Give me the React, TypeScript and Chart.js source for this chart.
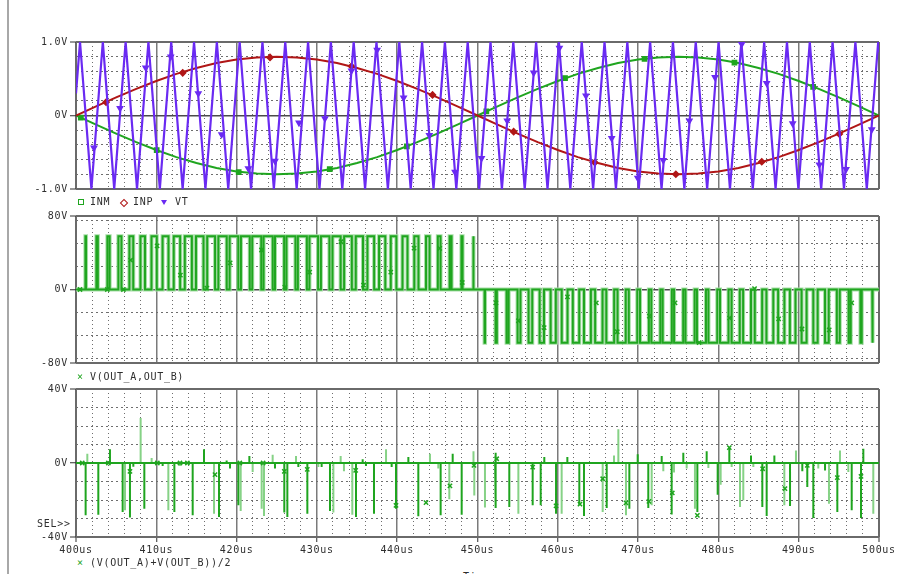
import React, { useEffect, useRef } from 'react';
import { Chart, registerables } from 'chart.js';

Chart.register(...registerables);

// ---------- shared time axis ----------
const timeMajorTicks = [400, 410, 420, 430, 440, 450, 460, 470, 480, 490, 500];
const timeMinorTicks = [402, 404, 406, 408, 412, 414, 416, 418, 422, 424, 426, 428, 432, 434, 436, 438, 442, 444, 446, 448,
  452, 454, 456, 458, 462, 464, 466, 468, 472, 474, 476, 478, 482, 484, 486, 488, 492, 494, 496, 498];

// ---------- panel 1: INM, INP, VT ----------
const sineTimes = [400, 402.5, 405, 407.5, 410, 412.5, 415, 417.5, 420, 422.5, 425, 427.5, 430, 432.5, 435, 437.5, 440, 442.5,
  445, 447.5, 450, 452.5, 455, 457.5, 460, 462.5, 465, 467.5, 470, 472.5, 475, 477.5, 480, 482.5, 485, 487.5, 490, 492.5, 495, 497.5, 500];
const inpValues = [0, 0.125, 0.247, 0.363, 0.47, 0.566, 0.647, 0.713, 0.761, 0.79, 0.8, 0.79, 0.761, 0.713, 0.647, 0.566, 0.47, 0.363,
  0.247, 0.125, 0, -0.125, -0.247, -0.363, -0.47, -0.566, -0.647, -0.713, -0.761, -0.79, -0.8, -0.79, -0.761, -0.713, -0.647, -0.566,
  -0.47, -0.363, -0.247, -0.125, 0];
const inmValues = [0, -0.125, -0.247, -0.363, -0.47, -0.566, -0.647, -0.713, -0.761, -0.79, -0.8, -0.79, -0.761, -0.713, -0.647, -0.566,
  -0.47, -0.363, -0.247, -0.125, 0, 0.125, 0.247, 0.363, 0.47, 0.566, 0.647, 0.713, 0.761, 0.79, 0.8, 0.79, 0.761, 0.713, 0.647, 0.566,
  0.47, 0.363, 0.247, 0.125, 0];
const vtTimes = [400, 400.5, 401.92, 403.34, 404.76, 406.18, 407.6, 409.02, 410.44, 411.86, 413.28, 414.7, 416.12, 417.54, 418.96,
  420.38, 421.8, 423.22, 424.64, 426.06, 427.48, 428.9, 430.32, 431.74, 433.16, 434.58, 436, 437.42, 438.84, 440.26, 441.68, 443.1,
  444.52, 445.94, 447.36, 448.78, 450.2, 451.62, 453.04, 454.46, 455.88, 457.3, 458.72, 460.14, 461.56, 462.98, 464.4, 465.82, 467.24,
  468.66, 470.08, 471.5, 472.92, 474.34, 475.76, 477.18, 478.6, 480.02, 481.44, 482.86, 484.28, 485.7, 487.12, 488.54, 489.96, 491.38,
  492.8, 494.22, 495.64, 497.06, 498.48, 499.9, 500];
const vtValues = [0.3, 1, -1, 1, -1, 1, -1, 1, -1, 1, -1, 1, -1, 1, -1, 1, -1, 1, -1, 1, -1, 1, -1, 1, -1, 1, -1, 1, -1, 1, -1, 1,
  -1, 1, -1, 1, -1, 1, -1, 1, -1, 1, -1, 1, -1, 1, -1, 1, -1, 1, -1, 1, -1, 1, -1, 1, -1, 1, -1, 1, -1, 1, -1, 1, -1, 1, -1, 1, -1,
  1, -1, 1, 0.86];
const inmMarkerTimes = [400.6, 410.05, 420.26, 431.6, 441.2, 451.1, 460.9, 470.8, 482.0, 491.8];
const inmMarkerValues = [-0.03, -0.47, -0.77, -0.73, -0.42, 0.055, 0.51, 0.77, 0.72, 0.39];
const inpMarkerTimes = [403.74, 413.29, 424.16, 434.3, 444.4, 454.5, 464.6, 474.7, 485.4, 495.06];
const inpMarkerValues = [0.18, 0.58, 0.79, 0.67, 0.28, -0.22, -0.64, -0.8, -0.63, -0.25];
const vtMarkerTimes = [402.24, 405.48, 408.68, 411.8, 415.23, 418.14, 421.46, 424.78, 427.77, 431.0, 434.3, 437.5, 440.8, 444.0,
  447.2, 450.5, 453.7, 457.0, 460.2, 463.5, 466.71, 469.95, 473.14, 476.38, 479.58, 482.9, 486.01, 489.25, 492.57, 495.9, 499.1];
const vtMarkerValues = [-0.44, 0.1, 0.65, 0.8, 0.3, -0.26, -0.72, -0.62, -0.1, -0.04, 0.61, 0.89, 0.24, -0.27, -0.77, -0.58, -0.07,
  0.58, 0.92, 0.27, -0.31, -0.85, -0.61, -0.07, 0.52, 0.97, 0.44, -0.11, -0.67, -0.73, -0.19];

// ---------- panel 2: V(OUT_A,OUT_B) ----------
const pulseStart = [401.17, 402.54, 403.91, 405.28, 406.65, 408.03, 409.4, 410.78, 412.17, 413.55, 414.94, 416.34, 417.73, 419.13,
  420.54, 421.95, 423.36, 424.78, 426.21, 427.63, 429.07, 430.5, 431.94, 433.39, 434.84, 436.29, 437.74, 439.2, 440.66, 442.13, 443.59,
  445.06, 446.53, 448.0, 449.47, 450.88, 452.25, 453.62, 454.99, 456.36, 457.74, 459.11, 460.49, 461.87, 463.26, 464.65, 466.04, 467.44,
  468.84, 470.24, 471.65, 473.06, 474.48, 475.9, 477.33, 478.76, 480.2, 481.64, 483.08, 484.53, 485.98, 487.44, 488.9, 490.36, 491.82,
  493.28, 494.75, 496.22, 497.69, 499.16];
const pulseEnd = [401.25, 402.72, 404.19, 405.66, 407.13, 408.59, 410.06, 411.52, 412.97, 414.43, 415.88, 417.32, 418.77, 420.21,
  421.64, 423.07, 424.5, 425.92, 427.33, 428.75, 430.15, 431.56, 432.96, 434.35, 435.74, 437.13, 438.52, 439.9, 441.28, 442.65, 444.03,
  445.4, 446.77, 448.14, 449.51, 450.94, 452.41, 453.88, 455.35, 456.82, 458.28, 459.75, 461.21, 462.67, 464.12, 465.57, 467.02, 468.46,
  469.9, 471.34, 472.77, 474.2, 475.62, 477.04, 478.45, 479.86, 481.26, 482.66, 484.06, 485.45, 486.84, 488.22, 489.6, 490.98, 492.36,
  493.74, 495.11, 496.48, 497.85, 499.22];
const pulseLevel = [58, 58, 58, 58, 58, 58, 58, 58, 58, 58, 58, 58, 58, 58, 58, 58, 58, 58, 58, 58, 58, 58, 58, 58, 58, 58, 58, 58,
  58, 58, 58, 58, 58, 58, 58, -58, -58, -58, -58, -58, -58, -58, -58, -58, -58, -58, -58, -58, -58, -58, -58, -58, -58, -58, -58, -58,
  -58, -58, -58, -58, -58, -58, -58, -58, -58, -58, -58, -58, -58, -58];
const diffMarkerTimes = [400.5, 403.9, 405.9, 406.8, 410.1, 413.0, 416.3, 419.2, 423.1, 426.0, 429.1, 433.0, 435.8, 439.2, 442.1,
  445.3, 448.1, 452.3, 455.1, 458.3, 461.2, 464.8, 467.4, 471.4, 474.6, 477.6, 481.4, 484.5, 487.5, 490.4, 493.8, 496.6];
const diffMarkerValues = [0, 0, 0, 32, 47.5, 15.6, 1.4, 29, 43, 2.5, 19, 52, 4.7, 19, 45, 44.7, 7.6, -14.6, -34, -41.4, -8, -14.6,
  -46, -29, -14.6, -57.8, -31, 1, -32, -43, -44, -14.6];

// ---------- panel 3: (V(OUT_A)+V(OUT_B))/2 ----------
const darkSpikeTimes = [401.2, 402.78, 404.23, 405.81, 406.72, 407.14, 408.51, 410.79, 412.25, 414.53, 415.94, 417.81, 418.76,
  419.18, 420.22, 421.59, 424.78, 425.94, 426.32, 427.69, 428.81, 430.59, 431.63, 434.87, 435.7, 436.11, 437.11, 439.31, 439.85,
  441.39, 442.63, 445.41, 446.91, 448.03, 452.2, 452.3, 453.96, 456.87, 457.87, 458.32, 459.78, 461.19, 462.68, 463.26, 466.09,
  468.91, 469.95, 471.27, 472.94, 474.18, 475.63, 477.38, 478.54, 479.91, 481.36, 484.06, 485.47, 486.01, 486.97, 488.92, 490.45,
  491.07, 491.82, 493.28, 494.81, 496.6, 497.76, 498.05];
const darkSpikeValues = [-28.3, -28, 7.4, -26.5, -29.5, -2, -24.7, -1.6, -26.5, -28.3, 7.4, -29.2, 1.4, -3, -22.9, 3.8, -3, -26.8,
  -29.2, -2.2, -27.4, -2.2, -26, -29.2, 2, -1.6, -27.4, -2.2, -24.7, 3.2, -28.8, -28.3, 5, -28, 5.6, -24.3, -23.8, -22.9, -22.9, 3.2,
  -27.4, 3.2, -22.9, -28.6, -24.3, -24.7, 4.7, -24.3, 3.8, -27.9, 5.6, -26.5, 6.3, -17.1, 8.3, 4.1, -23.8, -28.6, 4.1, -23.2, -4.5,
  -13, -29.7, -4, -26.5, -25.6, -29.7, 7.7];
const lightSpikeTimes = [401.41, 406.1, 408.05, 409.42, 411.5, 412.95, 417.19, 420.51, 422.0, 423.12, 423.41, 424.49, 427.4, 430.18,
  432.05, 432.96, 433.37, 434.41, 438.61, 444.08, 445.12, 446.49, 449.5, 449.6, 450.93, 455.09, 460.48, 465.59, 467.0, 467.54, 468.49,
  471.69, 473.14, 474.47, 476.05, 477.08, 478.75, 480.28, 481.65, 482.69, 483.1, 484.35, 488.21, 489.66, 492.44, 493.77, 495.14,
  496.18, 499.29];
const lightSpikeValues = [5, -25.6, 24.3, 2.7, -25.6, -1.6, -27.4, -26, -4.9, -24.7, -28.6, 4.5, 3.8, -2.2, -26.8, 3.8, -4.5, -28,
  7.4, 5, -3, -19.6, 6.3, -17.5, -24.1, -27.4, -27.4, -26.5, 4.1, 18.2, -28.3, -22.9, -4.5, -5.2, -3, -24.7, -2.7, -11.7, -2.2, -23.8,
  -20.2, -2.2, -22.9, 6.8, -3, -22, 6.8, -4.9, -27.4];
const sumMarkerTimes = [400.78, 404.03, 406.72, 410.13, 412.95, 413.87, 417.31, 420.4, 423.3, 425.94, 428.8, 434.83, 439.85, 443.59,
  446.57, 449.56, 452.39, 456.87, 459.78, 462.76, 465.59, 468.49, 471.35, 474.26, 477.38, 481.36, 485.51, 488.29, 491.07, 494.81, 497.76];
const sumMarkerValues = [0, 0, -4.5, 0, 0, 0, -6.3, 0, 0, -4.5, -3.4, -4, -22.9, -21.4, -12.4, -1.3, 2.3, -2.2, -23.2, -22.2, -8.5,
  -21.6, -20.7, -16.2, -28.3, 8.3, -3.1, -13.9, -1.3, -7.9, -7.2];

// ---------- labels ----------
const topLegend = ['INM', 'INP', 'VT'];
const midLegend = 'V(OUT_A,OUT_B)';
const botLegend = '(V(OUT_A)+V(OUT_B))/2';

// ---------- styles ----------
const FONT = '"DejaVu Sans Mono", monospace';
const TEXT = '#2e2e2e';
const BOX = '#6a6a6a';
const MAJOR = '#7a7a7a';
const ZERO = '#4a4a4a';
const MINOR = '#6e6e6e';
const GREEN = '#1fa51f';
const HALO = '#a6dea6';
const LIGHT_GREEN = '#86d286';
const RED = '#b01616';
const PURPLE = '#6a2af2';

const zip = (xs: number[], ys: number[]) => xs.map((x, i) => ({ x, y: ys[i] }));

function buildPulses() {
  const pts: { x: number; y: number }[] = [{ x: 400, y: 0 }];
  pulseStart.forEach((s, i) => {
    pts.push({ x: s, y: 0 }, { x: s, y: pulseLevel[i] }, { x: pulseEnd[i], y: pulseLevel[i] }, { x: pulseEnd[i], y: 0 });
  });
  pts.push({ x: 500, y: 0 });
  return pts;
}

function buildSpikes(ts: number[], vs: number[]) {
  const pts: { x: number; y: number }[] = [{ x: 400, y: 0 }];
  ts.forEach((t, i) => {
    pts.push({ x: t, y: 0 }, { x: t, y: vs[i] }, { x: t, y: 0 });
  });
  pts.push({ x: 500, y: 0 });
  return pts;
}

const letterSpacing = {
  id: 'letterSpacing',
  beforeDraw(chart: any) {
    try { chart.ctx.letterSpacing = '0.7px'; } catch (e) { /* ignore */ }
  },
};

type PanelCfg = {
  yMin: number; yMax: number; yMajor: number[]; yMinor: number[];
  yLabel: (v: number) => string; showX: boolean; datasets: any[];
};

function makeConfig(p: PanelCfg): any {
  const tickFont = { family: FONT, size: 10 };
  return {
    type: 'line',
    data: { datasets: p.datasets },
    plugins: [letterSpacing],
    options: {
      animation: false,
      responsive: false,
      devicePixelRatio: 1,
      events: [],
      layout: { padding: { top: 12, bottom: p.showX ? 0 : 12, left: 0, right: 19 } },
      plugins: { legend: { display: false }, tooltip: { enabled: false } },
      elements: { line: { tension: 0 }, point: { radius: 0 } },
      scales: {
        x: {
          type: 'linear', position: 'bottom', min: 400, max: 500,
          afterBuildTicks: (a: any) => { a.ticks = timeMajorTicks.map((v) => ({ value: v })); },
          afterFit: (a: any) => { a.height = p.showX ? 20 : 0; },
          grid: {
            color: (c: any) => (c.tick && (c.tick.value === 400 || c.tick.value === 500) ? BOX : MAJOR),
            lineWidth: (c: any) => (c.tick && (c.tick.value === 400 || c.tick.value === 500) ? 2 : 1.5),
            drawTicks: p.showX, tickLength: 5, tickColor: TEXT, tickWidth: 1,
          },
          border: { display: false },
          ticks: {
            display: p.showX, autoSkip: false, maxRotation: 0, minRotation: 0, padding: 2, color: TEXT, font: tickFont,
            callback: (v: any) => `${v}us`,
          },
        },
        xMinor: {
          type: 'linear', position: 'bottom', min: 400, max: 500,
          afterBuildTicks: (a: any) => { a.ticks = timeMinorTicks.map((v) => ({ value: v })); },
          afterFit: (a: any) => { a.height = 0; },
          grid: { color: MINOR, lineWidth: 1, drawTicks: false, borderDash: [1, 3] },
          border: { display: false, dash: [1, 3] },
          ticks: { display: false },
        },
        y: {
          type: 'linear', position: 'left', min: p.yMin, max: p.yMax,
          afterBuildTicks: (a: any) => { a.ticks = p.yMajor.map((v) => ({ value: v })); },
          afterFit: (a: any) => { a.width = 76; },
          grid: {
            color: (c: any) => (c.tick && c.tick.value === 0 ? ZERO : BOX),
            lineWidth: (c: any) => (c.tick && c.tick.value === 0 ? 1.5 : 2),
            drawTicks: true, tickLength: 6, tickColor: TEXT, tickWidth: 1,
          },
          border: { display: false },
          ticks: { padding: 2, color: TEXT, font: tickFont, callback: (v: any) => p.yLabel(Number(v)) },
        },
        yMinor: {
          type: 'linear', position: 'left', min: p.yMin, max: p.yMax,
          afterBuildTicks: (a: any) => { a.ticks = p.yMinor.map((v) => ({ value: v })); },
          afterFit: (a: any) => { a.width = 0; },
          grid: { color: MINOR, lineWidth: 1, drawTicks: false, borderDash: [2, 3] },
          border: { display: false, dash: [2, 3] },
          ticks: { display: false },
        },
      },
    },
  };
}

const lineDs = (label: string, data: any[], color: string, width = 2) => ({
  label, data, borderColor: color, backgroundColor: color, borderWidth: width, pointRadius: 0,
  xAxisID: 'x', yAxisID: 'y', fill: false,
});
const markerDs = (label: string, data: any[], color: string, style: string, rotation = 0, radius = 3) => ({
  label, data, showLine: false, borderColor: color, backgroundColor: color, pointStyle: style, pointRadius: radius,
  pointRotation: rotation, pointBorderWidth: 1.5, xAxisID: 'x', yAxisID: 'y',
});

export default function App() {
  const c1 = useRef<HTMLCanvasElement>(null);
  const c2 = useRef<HTMLCanvasElement>(null);
  const c3 = useRef<HTMLCanvasElement>(null);

  useEffect(() => {
    const charts: Chart[] = [];
    charts.push(new Chart(c1.current as HTMLCanvasElement, makeConfig({
      yMin: -1, yMax: 1, yMajor: [-1, 0, 1], yMinor: [-0.8, -0.6, -0.4, -0.2, 0.2, 0.4, 0.6, 0.8],
      yLabel: (v) => (v === 0 ? '0V' : `${v.toFixed(1)}V`), showX: false,
      datasets: [
        markerDs('VT', zip(vtMarkerTimes, vtMarkerValues), PURPLE, 'triangle', 180, 3),
        lineDs('VT', zip(vtTimes, vtValues), PURPLE, 2.2),
        markerDs('INP', zip(inpMarkerTimes, inpMarkerValues), RED, 'rectRot', 0, 3),
        lineDs('INP', zip(sineTimes, inpValues), RED, 2),
        markerDs('INM', zip(inmMarkerTimes, inmMarkerValues), GREEN, 'rect', 0, 3),
        lineDs('INM', zip(sineTimes, inmValues), GREEN, 2),
      ],
    })));
    const pulses = buildPulses();
    charts.push(new Chart(c2.current as HTMLCanvasElement, makeConfig({
      yMin: -80, yMax: 80, yMajor: [-80, 0, 80], yMinor: [-75, -50, -25, 25, 50, 75],
      yLabel: (v) => `${v}V`, showX: false,
      datasets: [
        markerDs('V(OUT_A,OUT_B)', zip(diffMarkerTimes, diffMarkerValues), GREEN, 'crossRot', 0, 3),
        lineDs('V(OUT_A,OUT_B)', pulses, GREEN, 2),
        lineDs('halo', pulses, HALO, 4),
      ],
    })));
    charts.push(new Chart(c3.current as HTMLCanvasElement, makeConfig({
      yMin: -40, yMax: 40, yMajor: [-40, 0, 40], yMinor: [-30, -20, -10, 10, 20, 30],
      yLabel: (v) => `${v}V`, showX: true,
      datasets: [
        markerDs('(V(OUT_A)+V(OUT_B))/2', zip(sumMarkerTimes, sumMarkerValues), GREEN, 'crossRot', 0, 3),
        lineDs('dark', buildSpikes(darkSpikeTimes, darkSpikeValues), GREEN, 2),
        lineDs('light', buildSpikes(lightSpikeTimes, lightSpikeValues), LIGHT_GREEN, 2),
      ],
    })));
    return () => charts.forEach((c) => c.destroy());
  }, []);

  const txt: React.CSSProperties = {
    position: 'absolute', font: `10px ${FONT}`, letterSpacing: '0.7px', color: TEXT, whiteSpace: 'pre', lineHeight: '12px',
  };
  const canvasStyle = (top: number, h: number): React.CSSProperties => ({
    position: 'absolute', left: 0, top, width: 898, height: h, display: 'block',
  });

  return (
    <div style={{ position: 'absolute', left: 0, top: 0, width: 898, height: 574, overflow: 'hidden', background: '#fff' }}>
      <div style={{ position: 'absolute', left: 7, top: 0, width: 2, height: 574, background: '#a8a8a8' }} />
      <canvas ref={c1} width={898} height={171} style={canvasStyle(30, 171)} />
      <canvas ref={c2} width={898} height={171} style={canvasStyle(204, 171)} />
      <canvas ref={c3} width={898} height={180} style={canvasStyle(377, 180)} />

      {/* top legend */}
      <div style={{ position: 'absolute', left: 78, top: 199, width: 4, height: 4, border: `1px solid ${GREEN}` }} />
      <span style={{ ...txt, left: 90, top: 196 }}>{topLegend[0]}</span>
      <div style={{ position: 'absolute', left: 121, top: 200, width: 4, height: 4, border: `1px solid ${RED}`, transform: 'rotate(45deg)' }} />
      <span style={{ ...txt, left: 133, top: 196 }}>{topLegend[1]}</span>
      <div style={{ position: 'absolute', left: 161, top: 200, width: 0, height: 0, borderLeft: '3px solid transparent', borderRight: '3px solid transparent', borderTop: `5px solid ${PURPLE}` }} />
      <span style={{ ...txt, left: 175, top: 196 }}>{topLegend[2]}</span>

      {/* middle legend */}
      <span style={{ ...txt, left: 77, top: 371, color: GREEN }}>×</span>
      <span style={{ ...txt, left: 90, top: 371 }}>{midLegend}</span>

      {/* bottom legend */}
      <span style={{ ...txt, left: 77, top: 557, color: GREEN }}>×</span>
      <span style={{ ...txt, left: 90, top: 557 }}>{botLegend}</span>

      <span style={{ ...txt, left: 37, top: 518 }}>SEL&gt;&gt;</span>
      <span style={{ ...txt, left: 463, top: 571 }}>Time</span>
    </div>
  );
}
